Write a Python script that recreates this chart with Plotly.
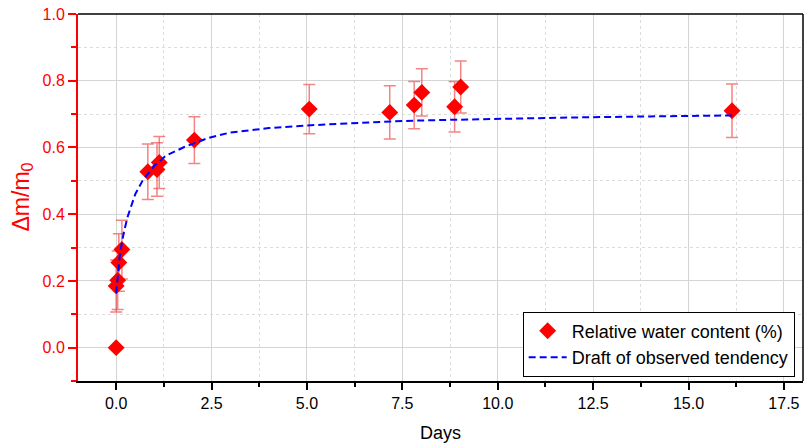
import plotly.graph_objects as go

# Measured points (days, relative mass change, error)
days = [0.0, 0.0, 0.04, 0.07, 0.15, 0.83, 1.07, 1.13, 2.05, 5.06, 7.17, 7.81, 8.01, 8.87, 9.03, 16.14]
dm = [0.0, 0.185, 0.202, 0.255, 0.294, 0.527, 0.534, 0.555, 0.622, 0.715, 0.705, 0.727, 0.765, 0.722, 0.781, 0.710]
err = [0.0, 0.078, 0.088, 0.086, 0.088, 0.083, 0.08, 0.078, 0.07, 0.074, 0.08, 0.071, 0.071, 0.076, 0.078, 0.08]

# Draft tendency curve
trend_x = [0.0, 0.05, 0.1, 0.2, 0.3, 0.5, 0.7, 1.0, 1.3, 1.8, 2.4, 3.0, 4.0, 5.0, 6.0, 7.0, 8.0, 10.0, 12.0, 14.0, 16.15]
trend_y = [0.163, 0.225, 0.282, 0.345, 0.392, 0.46, 0.502, 0.545, 0.575, 0.602, 0.628, 0.645, 0.658, 0.666, 0.672, 0.677, 0.681, 0.686, 0.690, 0.693, 0.696]

font = "Liberation Sans, Arial, sans-serif"

fig = go.Figure()
fig.add_trace(go.Scatter(
    x=days, y=dm, mode="markers",
    marker=dict(symbol="diamond", size=13, color="#ff0000"),
    error_y=dict(type="data", array=err, visible=True,
                 color="rgba(238,50,50,0.6)", thickness=1.5, width=6),
    name="Relative water content (%)",
))
fig.add_trace(go.Scatter(
    x=trend_x, y=trend_y, mode="lines",
    line=dict(color="#0000ff", width=2, dash="7px,4px"),
    name="Draft of observed tendency",
))

fig.update_layout(
    width=804, height=448,
    margin=dict(l=78, r=1, t=14, b=67),
    plot_bgcolor="white", paper_bgcolor="white",
    font=dict(family=font, size=16, color="black"),
    showlegend=True,
    legend=dict(
        x=0.9885, y=0.012, xanchor="right", yanchor="bottom",
        bgcolor="white", bordercolor="black", borderwidth=1,
        font=dict(size=18, color="black"),
        tracegroupgap=0, itemwidth=38,
    ),
    xaxis=dict(
        range=[-1, 18], tick0=0, dtick=2.5, tickformat=".1f",
        automargin=False,
        showgrid=True, gridcolor="#d4d4d4", gridwidth=1,
        showline=True, linecolor="black", linewidth=1.5,
        ticks="outside", ticklen=7, tickwidth=1.5, tickcolor="black",
        zeroline=False,
        minor=dict(dtick=1.25, tick0=0, showgrid=True, gridcolor="#dcdcdc",
                   griddash="dot", ticks="outside", ticklen=4, tickcolor="black"),
        tickfont=dict(size=16, color="black"),
    ),
    yaxis=dict(
        range=[-0.1, 1.0], tick0=0, dtick=0.2, tickformat=".1f",
        automargin=False,
        showgrid=True, gridcolor="#d4d4d4", gridwidth=1,
        showline=True, linecolor="#ff0000", linewidth=2,
        ticks="outside", ticklen=8, tickwidth=1.5, tickcolor="#ff0000",
        zeroline=False,
        minor=dict(dtick=0.1, tick0=0, showgrid=True, gridcolor="#dcdcdc",
                   griddash="dot", ticks="outside", ticklen=5, tickcolor="#ff0000"),
        tickfont=dict(size=16, color="#ff0000"),
    ),
    annotations=[
        dict(text="Days", xref="paper", yref="paper", x=0.5, y=0,
             xanchor="center", yanchor="middle", yshift=-52, showarrow=False,
             font=dict(size=18, color="black")),
        dict(text="Δm/m<sub>0</sub>", xref="paper", yref="paper", x=0, y=0.5,
             xanchor="center", yanchor="middle", xshift=-56, textangle=-90,
             showarrow=False, font=dict(size=23, color="#ff0000")),
    ],
    shapes=[
        dict(type="line", xref="paper", yref="paper", x0=0, x1=1, y0=1, y1=1,
             line=dict(color="black", width=1.5)),
        dict(type="line", xref="paper", yref="paper", x0=1, x1=1, y0=0, y1=1,
             line=dict(color="black", width=1.5)),
    ],
)

fig.write_html("out.html",
               config={"displayModeBar": False},
               post_script="document.body.style.margin='0';document.body.style.overflow='hidden';")
